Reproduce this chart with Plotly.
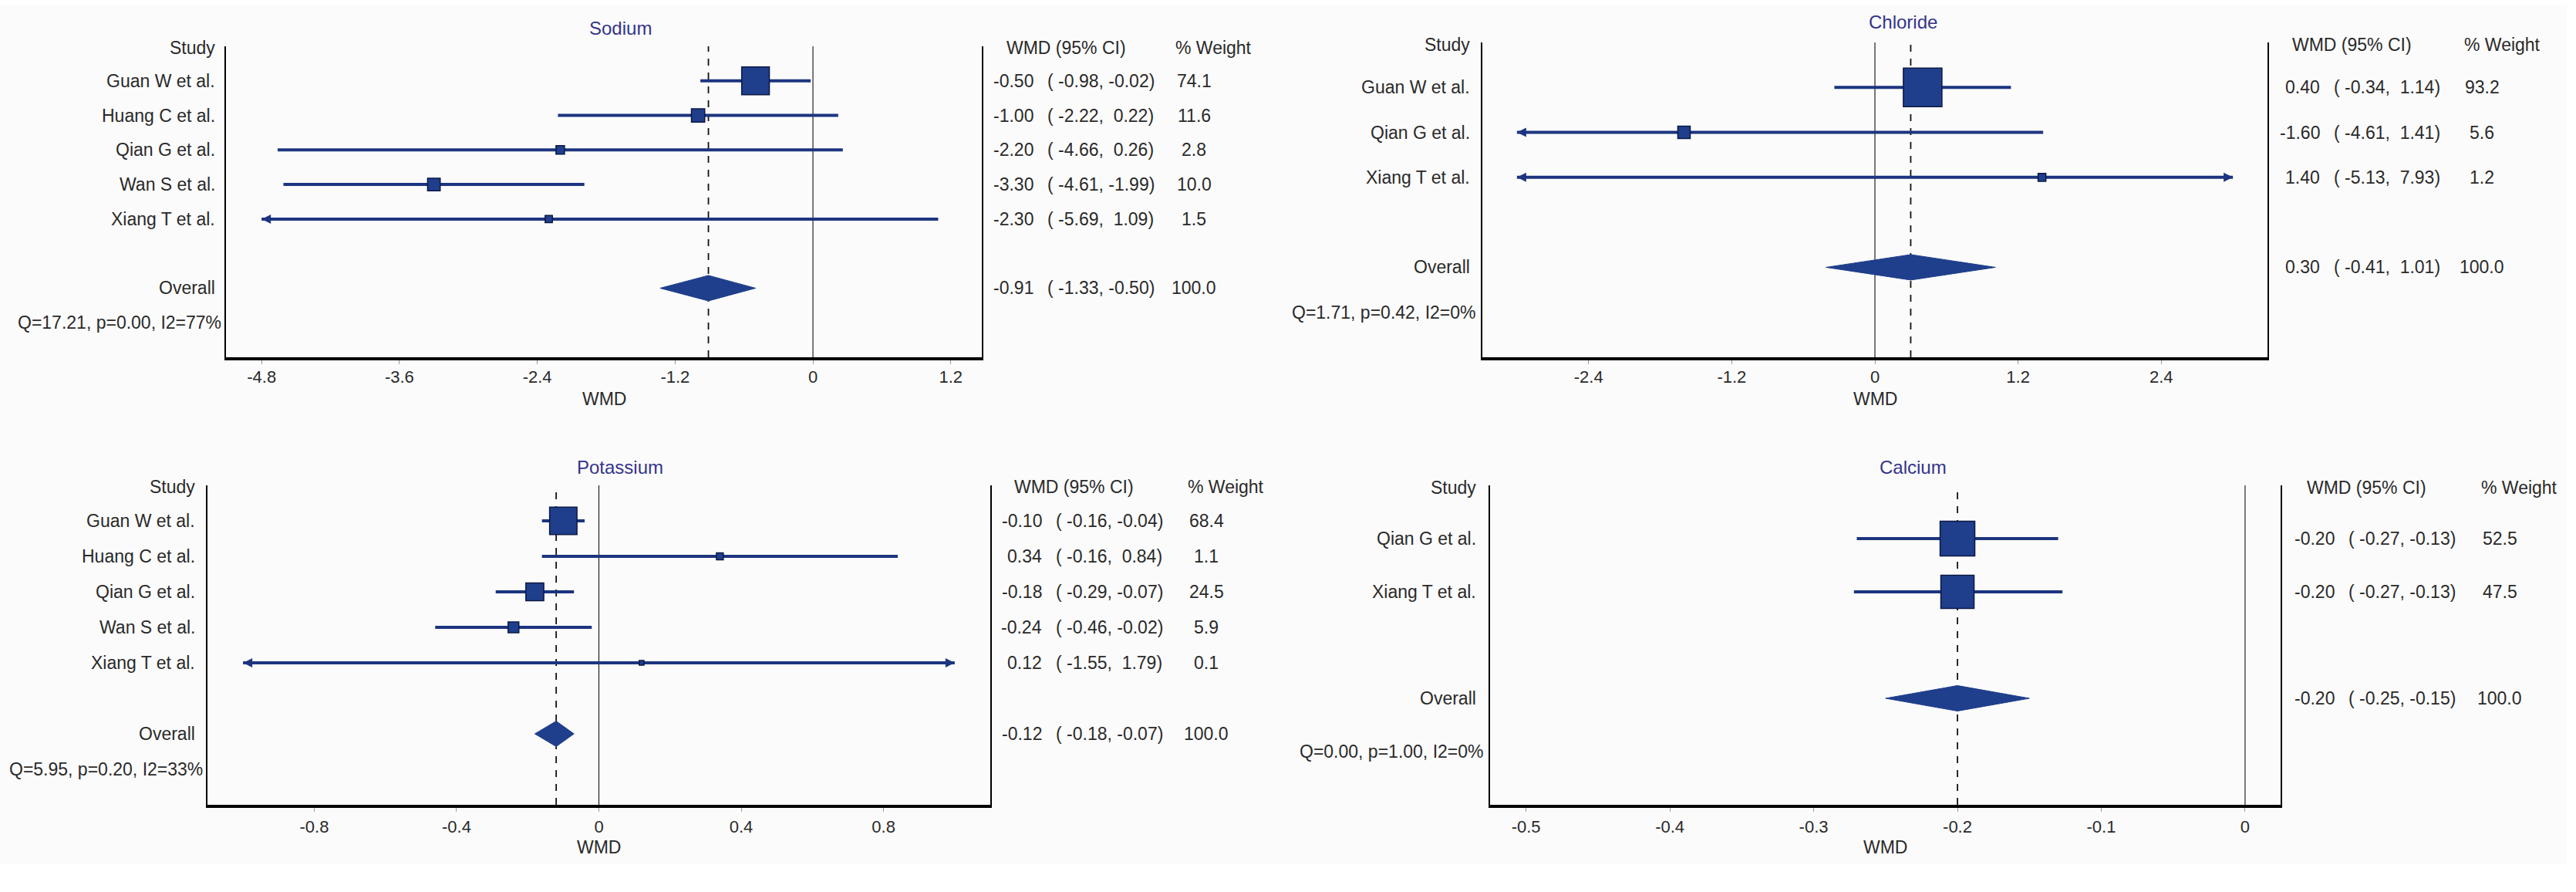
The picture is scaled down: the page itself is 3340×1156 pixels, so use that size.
import math
import plotly.graph_objects as go

W, H = 3340, 1156

# ---------------- data ----------------
sodium_studies = ["Guan W et al.", "Huang C et al.", "Qian G et al.", "Wan S et al.", "Xiang T et al."]
sodium_wmd = [-0.50, -1.00, -2.20, -3.30, -2.30]
sodium_lo = [-0.98, -2.22, -4.66, -4.61, -5.69]
sodium_hi = [-0.02, 0.22, 0.26, -1.99, 1.09]
sodium_weight = [74.1, 11.6, 2.8, 10.0, 1.5]
sodium_overall = [-0.91, -1.33, -0.50]
sodium_het = "Q=17.21, p=0.00, I2=77%"
sodium_ticks = [-4.8, -3.6, -2.4, -1.2, 0, 1.2]

chloride_studies = ["Guan W et al.", "Qian G et al.", "Xiang T et al."]
chloride_wmd = [0.40, -1.60, 1.40]
chloride_lo = [-0.34, -4.61, -5.13]
chloride_hi = [1.14, 1.41, 7.93]
chloride_weight = [93.2, 5.6, 1.2]
chloride_overall = [0.30, -0.41, 1.01]
chloride_het = "Q=1.71, p=0.42, I2=0%"
chloride_ticks = [-2.4, -1.2, 0, 1.2, 2.4]

potassium_studies = ["Guan W et al.", "Huang C et al.", "Qian G et al.", "Wan S et al.", "Xiang T et al."]
potassium_wmd = [-0.10, 0.34, -0.18, -0.24, 0.12]
potassium_lo = [-0.16, -0.16, -0.29, -0.46, -1.55]
potassium_hi = [-0.04, 0.84, -0.07, -0.02, 1.79]
potassium_weight = [68.4, 1.1, 24.5, 5.9, 0.1]
potassium_overall = [-0.12, -0.18, -0.07]
potassium_het = "Q=5.95, p=0.20, I2=33%"
potassium_ticks = [-0.8, -0.4, 0, 0.4, 0.8]

calcium_studies = ["Qian G et al.", "Xiang T et al."]
calcium_wmd = [-0.20, -0.20]
calcium_lo = [-0.270, -0.272]
calcium_hi = [-0.130, -0.127]
calcium_weight = [52.5, 47.5]
calcium_overall = [-0.20, -0.25, -0.15]
calcium_het = "Q=0.00, p=1.00, I2=0%"
calcium_ticks = [-0.5, -0.4, -0.3, -0.2, -0.1, 0]

# ---------------- layout (pixel geometry of each panel) ----------------
panels = [
    dict(title="Sodium", studies=sodium_studies, wmd=sodium_wmd, lo=sodium_lo, hi=sodium_hi,
         weight=sodium_weight, overall=sodium_overall, het=sodium_het, ticks=sodium_ticks,
         px=(293, 1273), py=(60, 463), xr=(-5.11, 1.47), clip=(-4.8, 1.47),
         title_xy=(804, 36), lab_x=281, q_x=289, eff_x=1342, ci_x=1356, w_x=1548,
         hw_x=1303, hp_x=1522, wmd_y=517, standoff=-2),
    dict(title="Chloride", studies=chloride_studies, wmd=chloride_wmd, lo=chloride_lo, hi=chloride_hi,
         weight=chloride_weight, overall=chloride_overall, het=chloride_het, ticks=chloride_ticks,
         px=(1922, 2940), py=(55, 463), xr=(-3.29, 3.29), clip=(-3.0, 3.0),
         title_xy=(2467, 29), lab_x=1908, q_x=1916, eff_x=3010, ci_x=3024, w_x=3218,
         hw_x=2970, hp_x=3193, wmd_y=517, standoff=-2),
    dict(title="Potassium", studies=potassium_studies, wmd=potassium_wmd, lo=potassium_lo, hi=potassium_hi,
         weight=potassium_weight, overall=potassium_overall, het=potassium_het, ticks=potassium_ticks,
         px=(269, 1284), py=(629, 1043), xr=(-1.10, 1.10), clip=(-1.0, 1.0),
         title_xy=(804, 605), lab_x=255, q_x=265, eff_x=1353, ci_x=1367, w_x=1564,
         hw_x=1313, hp_x=1538, wmd_y=1098, standoff=1),
    dict(title="Calcium", studies=calcium_studies, wmd=calcium_wmd, lo=calcium_lo, hi=calcium_hi,
         weight=calcium_weight, overall=calcium_overall, het=calcium_het, ticks=calcium_ticks,
         px=(1932, 2957), py=(629, 1043), xr=(-0.525, 0.0247), clip=(-0.525, 0.0247),
         title_xy=(2480, 605), lab_x=1916, q_x=1926, eff_x=3029, ci_x=3043, w_x=3241,
         hw_x=2989, hp_x=3215, wmd_y=1098, standoff=1),
]

LINE_C = "#1d3580"
BOX_C = "#1f3f8c"
BOX_EDGE = "#0c1846"
TXT_C = "#2a2a2a"
TITLE_C = "#34348c"
FONT = "Liberation Sans, Arial, sans-serif"
FS = 23


def fx(p):
    return p / W


def fy(p):
    return 1 - p / H


def fmt(v, w):
    s = f"{v:.2f}"
    return "\u00a0" * max(0, w - len(s)) + s


fig = go.Figure()
annotations = []
shapes = [dict(type="rect", xref="paper", yref="paper", x0=0, x1=fx(3328), y0=fy(1119), y1=fy(6),
               fillcolor="#fbfbfb", line=dict(width=0), layer="below")]

for i, p in enumerate(panels, start=1):
    xa = "x" if i == 1 else f"x{i}"
    ya = "y" if i == 1 else f"y{i}"
    n = len(p["studies"])
    nrows = n + 4
    rowpx = (p["py"][1] - p["py"][0]) / nrows
    rows = list(range(1, n + 1))
    r_over = n + 2
    r_q = n + 3
    cl_lo, cl_hi = p["clip"]

    # CI lines
    lx, ly = [], []
    arrows_l, arrows_r = [], []
    for r, lo, hi in zip(rows, p["lo"], p["hi"]):
        a = max(lo, cl_lo)
        b = min(hi, cl_hi)
        lx += [a, b, None]
        ly += [r, r, None]
        if lo < cl_lo:
            arrows_l.append((cl_lo, r))
        if hi > cl_hi:
            arrows_r.append((cl_hi, r))
    fig.add_trace(go.Scatter(x=lx, y=ly, mode="lines", line=dict(color=LINE_C, width=4),
                             xaxis=xa, yaxis=ya, hoverinfo="skip", showlegend=False))
    for pts, sym in ((arrows_l, "arrow-left"), (arrows_r, "arrow-right")):
        if pts:
            fig.add_trace(go.Scatter(x=[q[0] for q in pts], y=[q[1] for q in pts], mode="markers",
                                     marker=dict(symbol=sym, size=12, color=LINE_C, opacity=1,
                                                 line=dict(width=0)),
                                     xaxis=xa, yaxis=ya, hoverinfo="skip", showlegend=False))

    # weighted boxes
    sizes = [0.08 * math.sqrt(w) * rowpx + 5 for w in p["weight"]]
    fig.add_trace(go.Scatter(x=p["wmd"], y=rows, mode="markers",
                             marker=dict(symbol="square", size=sizes, color=BOX_C, opacity=1,
                                         line=dict(color=BOX_EDGE, width=1.5)),
                             xaxis=xa, yaxis=ya, hoverinfo="skip", showlegend=False))

    # overall diamond
    est, olo, ohi = p["overall"]
    hh = 16.5 / rowpx
    fig.add_trace(go.Scatter(x=[olo, est, ohi, est, olo], y=[r_over, r_over - hh, r_over, r_over + hh, r_over],
                             mode="lines", fill="toself", fillcolor=BOX_C,
                             line=dict(color=BOX_C, width=1),
                             xaxis=xa, yaxis=ya, hoverinfo="skip", showlegend=False))

    # reference lines
    shapes.append(dict(type="line", xref=xa, yref=f"{ya} domain", x0=0, x1=0, y0=0, y1=1,
                       line=dict(color="#222222", width=1.2), layer="below"))
    shapes.append(dict(type="line", xref=xa, yref=f"{ya} domain", x0=est, x1=est, y0=0, y1=1,
                       line=dict(color="#111111", width=1.8, dash="dash"), layer="below"))

    # axes
    xkey = "xaxis" if i == 1 else f"xaxis{i}"
    ykey = "yaxis" if i == 1 else f"yaxis{i}"
    fig.layout[xkey] = dict(domain=[fx(p["px"][0]), fx(p["px"][1])], range=list(p["xr"]),
                            anchor=ya, showgrid=False, zeroline=False,
                            showline=True, linecolor="black", linewidth=4,
                            tickmode="array", tickvals=p["ticks"],
                            ticktext=[f"{t:g}" for t in p["ticks"]],
                            ticks="outside", ticklen=5, tickwidth=1, tickcolor="#999999",
                            ticklabelstandoff=p["standoff"],
                            tickfont=dict(family=FONT, size=22, color=TXT_C))
    fig.layout[ykey] = dict(domain=[fy(p["py"][1]), fy(p["py"][0])], range=[nrows, 0],
                            anchor=xa, showgrid=False, zeroline=False, showticklabels=False,
                            ticks="", showline=True, mirror=True, linecolor="black", linewidth=2)

    # texts
    font = dict(family=FONT, size=FS, color=TXT_C)
    tx, ty = p["title_xy"]
    annotations.append(dict(text=p["title"], xref="paper", yref="paper", x=fx(tx), y=fy(ty),
                            xanchor="center", yanchor="middle", showarrow=False,
                            font=dict(family=FONT, size=24, color=TITLE_C)))
    annotations.append(dict(text="WMD", xref="paper", yref="paper",
                            x=fx((p["px"][0] + p["px"][1]) / 2), y=fy(p["wmd_y"]),
                            xanchor="center", yanchor="middle", showarrow=False, font=font))
    hdr_r = 0.05
    annotations.append(dict(text="Study", xref="paper", yref=ya, x=fx(p["lab_x"]), y=hdr_r,
                            xanchor="right", yanchor="middle", showarrow=False, font=font))
    annotations.append(dict(text="WMD (95% CI)", xref="paper", yref=ya, x=fx(p["hw_x"]), y=hdr_r,
                            xanchor="left", yanchor="middle", showarrow=False, font=font))
    annotations.append(dict(text="% Weight", xref="paper", yref=ya, x=fx(p["hp_x"]), y=hdr_r,
                            xanchor="left", yanchor="middle", showarrow=False, font=font))

    row_items = list(zip(rows, p["studies"], p["wmd"], p["lo"], p["hi"], p["weight"]))
    row_items.append((r_over, "Overall", est, olo, ohi, 100.0))
    for r, name, e, lo, hi, w in row_items:
        annotations.append(dict(text=name, xref="paper", yref=ya, x=fx(p["lab_x"]), y=r,
                                xanchor="right", yanchor="middle", showarrow=False, font=font))
        annotations.append(dict(text=f"{e:.2f}", xref="paper", yref=ya, x=fx(p["eff_x"]), y=r,
                                xanchor="right", yanchor="middle", showarrow=False, font=font))
        annotations.append(dict(text=f"({fmt(lo, 6)},{fmt(hi, 6)})", xref="paper", yref=ya,
                                x=fx(p["ci_x"]), y=r, xanchor="left", yanchor="middle",
                                showarrow=False, font=font))
        annotations.append(dict(text=f"{w:.1f}", xref="paper", yref=ya, x=fx(p["w_x"]), y=r,
                                xanchor="center", yanchor="middle", showarrow=False, font=font))
    annotations.append(dict(text=p["het"], xref="paper", yref=ya, x=fx(p["q_x"]), y=r_q,
                            xanchor="right", yanchor="middle", showarrow=False, font=font))

fig.update_layout(width=W, height=H, autosize=False,
                  margin=dict(l=0, r=0, t=0, b=0),
                  paper_bgcolor="white", plot_bgcolor="rgba(0,0,0,0)",
                  showlegend=False, annotations=annotations, shapes=shapes,
                  font=dict(family=FONT, color=TXT_C))

fig.write_html("out.html", config={"displayModeBar": False},
               post_script="document.body.style.margin='0';document.body.style.overflow='hidden';")
